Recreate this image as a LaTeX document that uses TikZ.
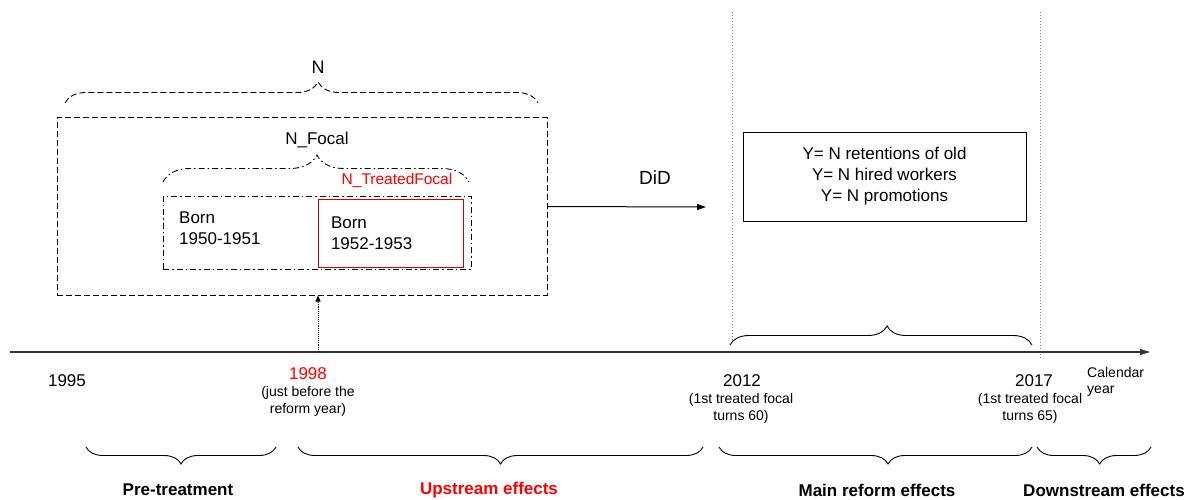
\documentclass[tikz,border=0pt]{standalone}
\usepackage{fontspec}
\setmainfont{Liberation Sans}
\usetikzlibrary{arrows.meta, decorations.pathreplacing}

\begin{document}
\begin{tikzpicture}[x=1pt, y=-1pt,
    txt/.style={font=\fontsize{17}{21}\selectfont, inner sep=0pt, align=center},
    small/.style={font=\fontsize{14}{17}\selectfont, inner sep=0pt, align=center},
    lbl/.style={font=\fontsize{17}{21}\selectfont\bfseries, inner sep=0pt},
    box/.style={rectangle, draw=black, line width=1pt, inner sep=0pt},
    brc/.style={decorate, line width=0.9pt, decoration={brace, amplitude=#1}},
    dashdot/.style={dash pattern=on 6pt off 3pt on 1.5pt off 3pt},
    vline/.style={gray, line width=0.8pt, dash pattern=on 1pt off 2pt}]
    \useasboundingbox (0,0) rectangle (1185,500);

    \node[box, dash pattern=on 6pt off 3pt, minimum width=490pt, minimum height=177pt] (outer) at (302,206.5) {};
    \node[box, dashdot, minimum width=308pt, minimum height=73pt] (focal) at (317,232.5) {};
    \node[box, draw=red!80!black, txt, align=left, text width=119pt, inner xsep=13pt, minimum height=68pt] (treated) at (390.5,233) {Born\\1952-1953};
    \node[txt, align=left, anchor=west] (born-a) at (179,228) {Born\\1950-1951};

    \draw[brc=21pt, dash pattern=on 6pt off 3pt, decoration={aspect=0.535}] (65,103) -- (538,103);
    \node[txt, font=\fontsize{18}{21}\selectfont] (n-all) at (318,67) {N};
    \draw[brc=27pt, dashdot, decoration={aspect=0.503}] (163,182) -- (469,182);
    \node[txt] (n-focal) at (317,140) {N\_Focal};
    \node[txt, text=red, font=\fontsize{15.5}{18}\selectfont] (n-treated) at (397,180) {N\_TreatedFocal};

    \coordinate (did-end) at (706,207);
    \draw[line width=1pt, -{Triangle[length=9pt, width=6pt]}] (outer.east) -- (did-end);
    \node[txt, font=\fontsize{19}{22}\selectfont] (did) at (655,178) {DiD};

    \node[box, txt, minimum width=283pt, minimum height=89pt] (ybox) at (884.5,176.5) {Y= N retentions of old\\Y= N hired workers\\Y= N promotions};

    \draw[vline] (732,12) -- (732,340);
    \draw[vline] (1040,12) -- (1040,358);
    \draw[brc=19pt, decoration={aspect=0.52}] (730,345) -- (1032,345);

    \coordinate (ax-0) at (10,352);
    \coordinate (ax-1) at (1150,352);
    \draw[black!80, line width=1.3pt, -{Triangle[length=10pt, width=6pt]}] (ax-0) -- (ax-1);
    \coordinate (t-1998) at (318,352);
    \draw[line width=0.9pt, densely dotted, -{Triangle[length=6pt, width=5pt]}] (t-1998) -- (t-1998 |- outer.south);

    \node[txt] (y-1995) at (67,381) {1995};
    \node[txt, text=red] (y-1998) at (308,374) {1998};
    \node[small] (c-1998) at (308,401.5) {(just before the\\reform year)};
    \node[txt] (y-2012) at (742,381) {2012};
    \node[small] (c-2012) at (741,408.5) {(1st treated focal\\turns 60)};
    \node[txt] (y-2017) at (1034,381) {2017};
    \node[small] (c-2017) at (1030,408.5) {(1st treated focal\\turns 65)};
    \node[small, font=\fontsize{14}{16}\selectfont, align=left, anchor=west] (cal) at (1087,382) {Calendar\\year};

    \draw[brc=17pt, decoration={mirror, aspect=0.5}] (86,447) -- (276,447);
    \draw[brc=17pt, decoration={mirror, aspect=0.5}] (298,447) -- (703,447);
    \draw[brc=17pt, decoration={mirror, aspect=0.54}] (719,447) -- (1032,447);
    \draw[brc=17pt, decoration={mirror, aspect=0.55}] (1037,447) -- (1151,447);

    \node[lbl] (p-pre) at (178,490) {Pre-treatment};
    \node[lbl, text=red] (p-up) at (489,490) {Upstream effects};
    \node[lbl] (p-main) at (877,490) {Main reform effects};
    \node[lbl] (p-down) at (1104,490) {Downstream effects};
\end{tikzpicture}
\end{document}
